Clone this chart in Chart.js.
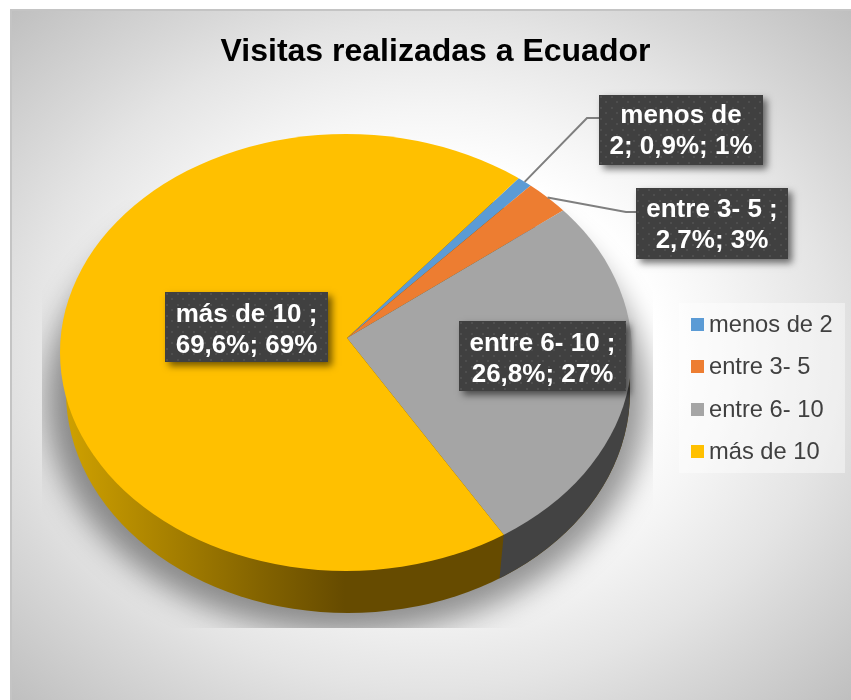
<!DOCTYPE html>
<html>
<head>
<meta charset="utf-8">
<style>html,body{margin:0;padding:0;background:#fff}canvas{display:block}</style>
<script src="https://cdn.jsdelivr.net/npm/chart.js@4"></script>
</head>
<body>
<canvas id="c" width="851" height="700"></canvas>
<script>
const categories = ['menos de 2', 'entre 3- 5', 'entre 6- 10', 'más de 10'];
const shares = [0.9, 2.7, 26.8, 69.6];
const colors = ['#5B9BD5', '#ED7D31', '#A5A5A5', '#FFC000'];
const wallColors = ['#2f5f8c', '#9c4f1c', '#434343', '#634900'];
const labelLines = [
  ['menos de', '2; 0,9%; 1%'],
  ['entre 3- 5 ;', '2,7%; 3%'],
  ['entre 6- 10 ;', '26,8%; 27%'],
  ['más de 10 ;', '69,6%; 69%']
];
const titleText = 'Visitas realizadas a Ecuador';

const FONT = '"Liberation Sans", Arial, sans-serif';
const apex = {x: 347, y: 338};
const squash = 0.762;
const topEll = {x: 346, y: 352.5, rx: 286, ry: 218.5};
const botEll = {x: 348, y: 392, rx: 282, ry: 221};
const cut = {x: -4, y: 41};
const labelBoxes = [
  {x: 599, y: 95, w: 164, h: 70, base: 123},
  {x: 636, y: 188, w: 152, h: 71, base: 217},
  {x: 459, y: 321, w: 167, h: 70, base: 351},
  {x: 165, y: 292, w: 163, h: 70, base: 322}
];
const leaders = {0: {box: [599, 118], elbow: [587, 118]}, 1: {box: [636, 212], elbow: [626, 212]}};
const legendBox = {x: 679, y: 303, w: 166, h: 170, sw: 13, swX: 691, textX: 709, firstBase: 332, step: 42.4};

function ellipsePath(ctx, e) {
  ctx.beginPath();
  ctx.ellipse(e.x, e.y, e.rx, e.ry, 0, 0, Math.PI * 2);
}
function rimPoint(angle) {
  const dx = Math.cos(angle), dy = squash * Math.sin(angle);
  const ox = (apex.x - topEll.x) / topEll.rx, oy = (apex.y - topEll.y) / topEll.ry;
  const ax = dx / topEll.rx, ay = dy / topEll.ry;
  const A = ax * ax + ay * ay, B = 2 * (ox * ax + oy * ay), C = ox * ox + oy * oy - 1;
  const t = (-B + Math.sqrt(B * B - 4 * A * C)) / (2 * A);
  return {x: apex.x + t * dx, y: apex.y + t * dy};
}

const pie3d = {
  id: 'pie3d',
  beforeDraw(chart) {
    const ctx = chart.ctx;
    ctx.save();
    const W = 841, H = 691, cx = 10 + W / 2, cy = 9 + H / 2;
    ctx.save();
    ctx.beginPath(); ctx.rect(10, 9, W, H); ctx.clip();
    ctx.translate(cx, cy);
    ctx.scale(1, H / W);
    const g = ctx.createRadialGradient(0, 0, 0, 0, 0, W / 2 * Math.SQRT2);
    g.addColorStop(0, '#ffffff');
    g.addColorStop(0.38, '#ffffff');
    g.addColorStop(0.5, '#f5f5f5');
    g.addColorStop(0.68, '#e4e4e4');
    g.addColorStop(0.78, '#d8d8d8');
    g.addColorStop(1, '#bfbfbf');
    ctx.fillStyle = g;
    ctx.fillRect(-W, -W, 2 * W, 2 * W);
    ctx.restore();
    ctx.fillStyle = '#c4c4c4';
    ctx.fillRect(10, 9, W, 2);
    ctx.fillRect(10, 9, 2, H);
    ctx.restore();
  },
  beforeDatasetsDraw(chart) {
    const ctx = chart.ctx;
    const arcs = chart.getDatasetMeta(0).data;
    // soft shadow under the pie, cut by its rectangle
    ctx.save();
    ctx.beginPath(); ctx.rect(42, 200, 611, 428); ctx.clip();
    ctx.shadowColor = 'rgba(0,0,0,0.42)';
    ctx.shadowBlur = 30;
    ctx.shadowOffsetX = 2000;
    ctx.shadowOffsetY = 0;
    ctx.fillStyle = '#000';
    ctx.beginPath();
    ctx.ellipse(347 - 2000, 400, 300, 233, 0, 0, Math.PI * 2);
    ctx.fill();
    ctx.restore();
    // side wall: largest slice over the whole lower rim, the others cut from it
    const largest = arcs.reduce((b, el, i) => (el.circumference > arcs[b].circumference ? i : b), 0);
    const wallPaint = i => {
      if (i !== 3) return wallColors[i];
      const g = ctx.createLinearGradient(65, 0, 345, 0);
      g.addColorStop(0, '#cfa100');
      g.addColorStop(0.35, '#a98200');
      g.addColorStop(0.7, '#836300');
      g.addColorStop(1, '#664b00');
      return g;
    };
    ctx.save();
    ellipsePath(ctx, botEll);
    ctx.fillStyle = wallPaint(largest);
    ctx.fill();
    ctx.restore();
    arcs.forEach((el, i) => {
      if (i === largest) return;
      const s = rimPoint(el.startAngle), e = rimPoint(el.endAngle);
      const m = rimPoint((el.startAngle + el.endAngle) / 2);
      ctx.save();
      ctx.beginPath();
      ctx.moveTo(e.x, e.y);
      ctx.lineTo(e.x + 2 * cut.x, e.y + 2 * cut.y);
      ctx.lineTo(apex.x + 2 * (m.x - apex.x) + 2 * cut.x, apex.y + 2 * (m.y - apex.y) + 2 * cut.y);
      ctx.lineTo(s.x + 2 * cut.x, s.y + 2 * cut.y);
      ctx.lineTo(s.x, s.y);
      ctx.closePath();
      ctx.clip();
      ellipsePath(ctx, botEll);
      ctx.fillStyle = wallPaint(i);
      ctx.fill();
      ctx.restore();
    });
    // top face: slices spread around the apex, trimmed to the rim
    const el0 = arcs[0];
    ctx.save();
    ellipsePath(ctx, topEll);
    ctx.clip();
    ctx.translate(apex.x, apex.y);
    ctx.scale(1, squash);
    ctx.translate(-el0.x, -el0.y);
  },
  afterDatasetsDraw(chart) {
    const ctx = chart.ctx;
    ctx.restore();
    const arcs = chart.getDatasetMeta(0).data;

    // legend
    ctx.save();
    ctx.fillStyle = 'rgba(255,255,255,0.42)';
    ctx.fillRect(legendBox.x, legendBox.y, legendBox.w, legendBox.h);
    ctx.font = '23.7px ' + FONT;
    ctx.textAlign = 'left';
    ctx.textBaseline = 'alphabetic';
    chart.data.labels.forEach((name, i) => {
      const base = legendBox.firstBase + i * legendBox.step;
      ctx.fillStyle = colors[i];
      ctx.fillRect(legendBox.swX, Math.round(base - 14), legendBox.sw, legendBox.sw);
      ctx.fillStyle = '#404040';
      ctx.fillText(name, legendBox.textX, base);
    });
    ctx.restore();

    // leader lines
    ctx.save();
    ctx.strokeStyle = '#7f7f7f';
    ctx.lineWidth = 2;
    Object.keys(leaders).forEach(k => {
      const el = arcs[k], l = leaders[k];
      const p = rimPoint((el.startAngle + el.endAngle) / 2);
      ctx.beginPath();
      ctx.moveTo(p.x, p.y);
      ctx.lineTo(l.elbow[0], l.elbow[1]);
      ctx.lineTo(l.box[0], l.box[1]);
      ctx.stroke();
    });
    ctx.restore();

    // data labels
    const tile = document.createElement('canvas');
    tile.width = 11; tile.height = 11;
    const t = tile.getContext('2d');
    t.fillStyle = '#404040'; t.fillRect(0, 0, 11, 11);
    t.fillStyle = '#4e4e4e';
    t.fillRect(1, 1, 2, 2);
    t.fillRect(6, 6, 2, 2);
    const pattern = ctx.createPattern(tile, 'repeat');
    labelBoxes.forEach((b, i) => {
      ctx.save();
      ctx.shadowColor = 'rgba(0,0,0,0.55)';
      ctx.shadowBlur = 7;
      ctx.shadowOffsetX = 4;
      ctx.shadowOffsetY = 4;
      ctx.fillStyle = '#404040';
      ctx.fillRect(b.x, b.y, b.w, b.h);
      ctx.restore();
      ctx.save();
      ctx.translate(b.x, b.y);
      ctx.fillStyle = pattern;
      ctx.fillRect(0, 0, b.w, b.h);
      ctx.restore();
      ctx.save();
      ctx.font = 'bold 26px ' + FONT;
      ctx.fillStyle = '#ffffff';
      ctx.textAlign = 'center';
      ctx.textBaseline = 'alphabetic';
      labelLines[i].forEach((line, j) => {
        ctx.fillText(line, b.x + b.w / 2, b.base + j * 31);
      });
      ctx.restore();
    });
  }
};

new Chart(document.getElementById('c'), {
  type: 'pie',
  data: {
    labels: categories,
    datasets: [{
      data: shares,
      backgroundColor: colors,
      borderWidth: 0,
      radius: 330,
      clip: false
    }]
  },
  options: {
    responsive: false,
    animation: false,
    rotation: 39.3,
    layout: {padding: {left: 20}},
    plugins: {
      legend: {display: false},
      tooltip: {enabled: false},
      title: {
        display: true,
        text: titleText,
        fullSize: false,
        color: '#000000',
        font: {family: FONT, size: 32, weight: 'bold'},
        padding: {top: 33, bottom: 5}
      }
    }
  },
  plugins: [pie3d]
});
</script>
</body>
</html>
